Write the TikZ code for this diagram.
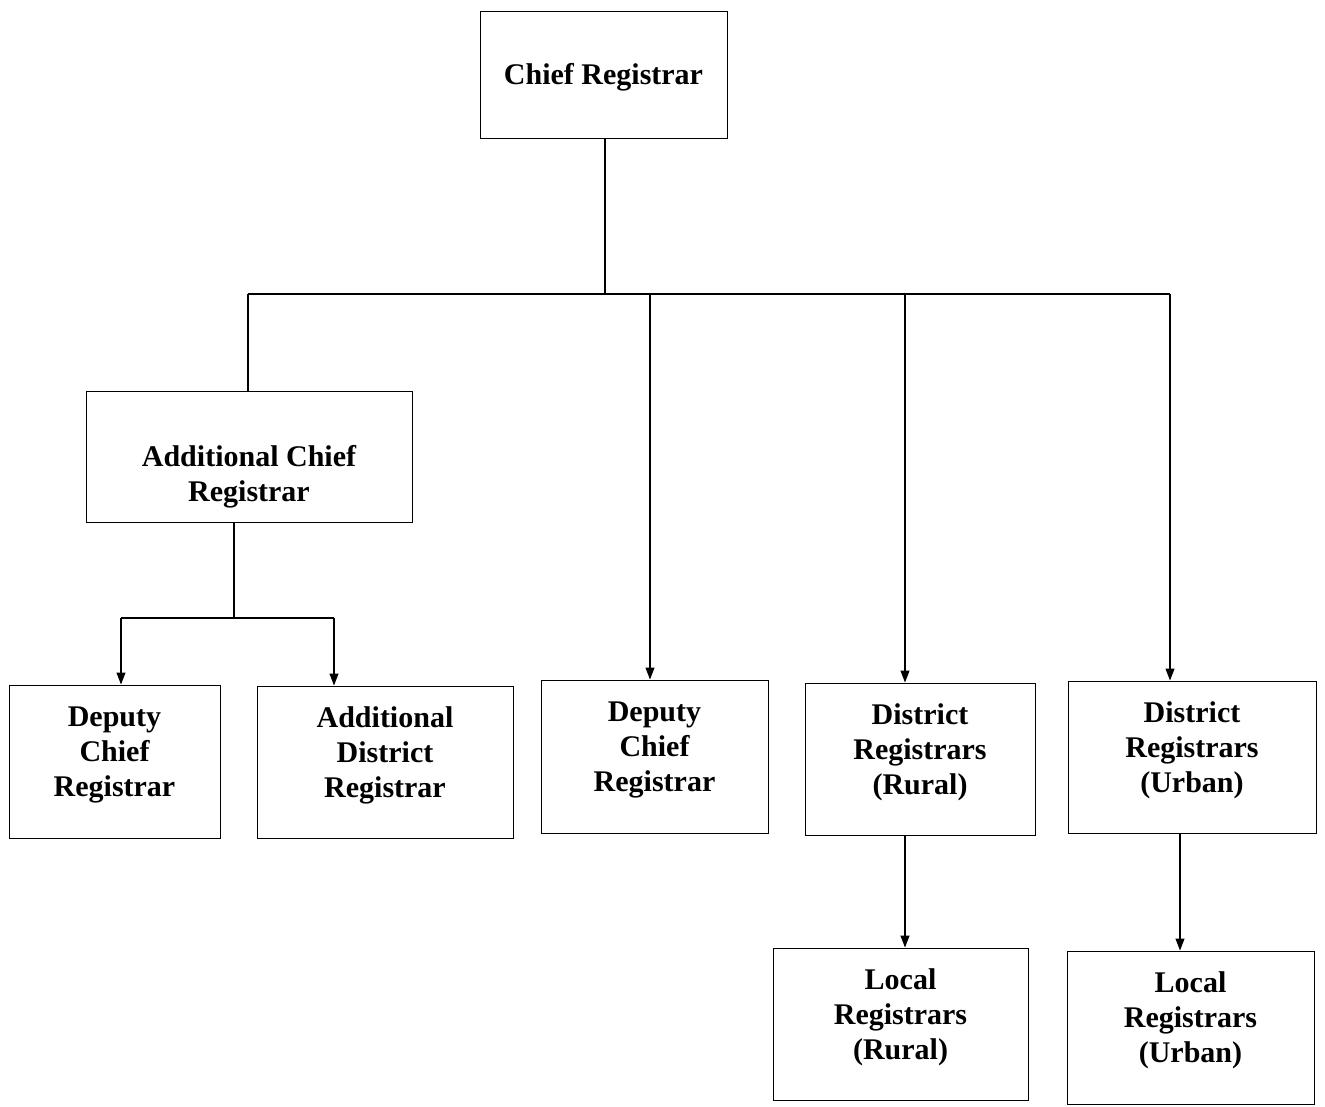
\documentclass[tikz,border=0pt]{standalone}
\usepackage{fontspec}
\setmainfont{Liberation Serif}
\usetikzlibrary{arrows.meta}
\begin{document}
\begin{tikzpicture}[x=1pt,y=-1pt,
  box/.style={draw, line width=1pt, rectangle, inner sep=0pt},
  lbl/.style={align=center, inner sep=0pt, font=\fontsize{30}{35}\selectfont\bfseries},
  link/.style={line width=1.1pt},
  arr/.style={line width=1.1pt, -{Triangle[length=12pt,width=9pt]}}]
\useasboundingbox (0,0) rectangle (1325,1107);
\node[box, minimum width=247pt, minimum height=127pt] (chief) at (603.5,75.5) {};
\node[box, minimum width=326pt, minimum height=131pt] (acr) at (249,456.5) {};
\node[box, minimum width=211pt, minimum height=153pt] (dcra) at (114.5,761.5) {};
\node[box, minimum width=256pt, minimum height=152pt] (adr) at (385,762) {};
\node[box, minimum width=227pt, minimum height=153pt] (dcrb) at (654.5,756.5) {};
\node[box, minimum width=230pt, minimum height=152pt] (drr) at (920,759) {};
\node[box, minimum width=248pt, minimum height=152pt] (dru) at (1192,757) {};
\node[box, minimum width=255pt, minimum height=152pt] (lrr) at (900.5,1024) {};
\node[box, minimum width=247pt, minimum height=153pt] (lru) at (1190.5,1027.5) {};
\node[lbl] (chieft) at ([yshift=-2pt]chief.center) {Chief Registrar};
\node[lbl] (acrt) at ([yshift=-20pt]acr.center) {Additional Chief\\Registrar};
\node[lbl] (dcrat) at ([yshift=7pt]dcra.center) {Deputy\\Chief\\Registrar};
\node[lbl] (adrt) at ([yshift=7pt]adr.center) {Additional\\District\\Registrar};
\node[lbl] (dcrbt) at ([yshift=7pt]dcrb.center) {Deputy\\Chief\\Registrar};
\node[lbl] (drrt) at ([yshift=7pt]drr.center) {District\\Registrars\\(Rural)};
\node[lbl] (drut) at ([yshift=7pt]dru.center) {District\\Registrars\\(Urban)};
\node[lbl] (lrrt) at ([yshift=7pt]lrr.center) {Local\\Registrars\\(Rural)};
\node[lbl] (lrut) at ([yshift=7pt]lru.center) {Local\\Registrars\\(Urban)};
\coordinate (j0) at (605,294);
\coordinate (jl) at (248,294);
\coordinate (jb) at (650,294);
\coordinate (jc) at (905,294);
\coordinate (jd) at (1170,294);
\coordinate (k0) at (234,618);
\coordinate (kl) at (121,618);
\coordinate (kr) at (334,618);
\draw[link] (chief.south -| j0) -- (j0);
\draw[link] (jl) -- (jd);
\draw[link] (jl) -- (jl |- acr.north);
\draw[arr] (jb) -- (jb |- dcrb.north);
\draw[arr] (jc) -- (jc |- drr.north);
\draw[arr] (jd) -- (jd |- dru.north);
\draw[link] (acr.south -| k0) -- (k0);
\draw[link] (kl) -- (kr);
\draw[arr] (kl) -- (kl |- dcra.north);
\draw[arr] (kr) -- (kr |- adr.north);
\draw[arr] (drr.south -| 905,0) -- (905,0 |- lrr.north);
\draw[arr] (dru.south -| 1180,0) -- (1180,0 |- lru.north);
\end{tikzpicture}
\end{document}
